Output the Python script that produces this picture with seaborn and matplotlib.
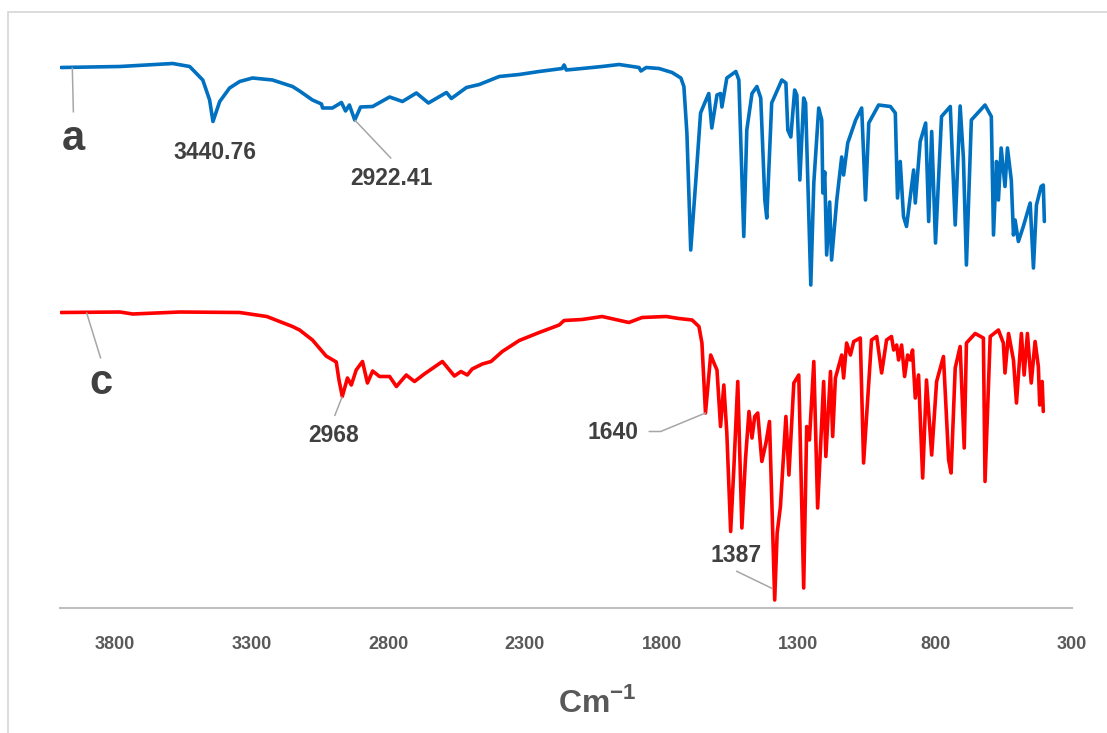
import matplotlib
matplotlib.use("Agg")
import matplotlib.pyplot as plt
import seaborn as sns
import pandas as pd
from matplotlib.patches import Rectangle

# ---- FTIR spectrum a (wavenumber in cm-1, offset transmittance) ----
wn_a = [3996, 3781, 3588, 3526, 3478, 3453, 3440.76, 3416, 3380, 3343,
        3296, 3223, 3150, 3124, 3077, 3044, 3040, 3004, 2971, 2956,
        2942, 2922.41, 2901, 2857, 2795, 2748, 2697, 2653, 2587, 2569,
        2514, 2467, 2394, 2321, 2248, 2164, 2157, 2149, 2091, 2018,
        1956, 1883, 1876, 1857, 1810, 1762, 1730, 1719, 1708, 1694,
        1676, 1658, 1646, 1628, 1617, 1598, 1585, 1580, 1562, 1529,
        1518, 1500, 1489, 1470, 1452, 1438, 1423, 1416, 1398, 1361,
        1346, 1339, 1328, 1314, 1306, 1295, 1281, 1274, 1255, 1244,
        1226, 1215, 1211, 1204, 1197, 1186, 1179, 1160, 1142, 1135,
        1120, 1091, 1069, 1055, 1043, 1007, 964, 946, 938, 928,
        916, 905, 879, 873, 855, 835, 824, 813, 799, 777,
        745, 727, 709, 697, 686, 668, 618, 595, 587, 576,
        569, 559, 545, 536, 522, 514, 508, 496, 478, 453,
        441, 430, 413, 405, 401]
t_a = [112.5, 112.7, 113.3, 112.7, 110.0, 106.0, 101.7, 105.7, 108.4, 109.7,
       110.4, 110.0, 108.7, 107.8, 106.0, 105.2, 104.4, 104.4, 105.5, 103.8,
       105.0, 102.0, 104.6, 104.7, 106.6, 105.7, 107.4, 105.4, 107.5, 106.3,
       108.5, 109.1, 110.7, 111.1, 111.7, 112.3, 113.0, 112.0, 112.3, 112.7,
       113.1, 112.5, 111.8, 112.5, 112.3, 111.5, 110.4, 108.7, 99.4, 76.0,
       89.4, 103.4, 105.0, 107.3, 100.4, 107.0, 107.3, 104.6, 110.4, 111.7,
       110.0, 78.7, 100.0, 107.3, 108.7, 106.4, 86.0, 82.4, 105.4, 110.0,
       109.4, 100.0, 98.6, 108.0, 107.0, 90.0, 106.4, 105.4, 69.0, 89.4,
       104.4, 102.0, 87.4, 91.6, 75.0, 85.6, 74.0, 86.0, 94.6, 91.0,
       97.4, 102.0, 104.4, 86.0, 101.4, 105.0, 104.7, 103.4, 86.4, 93.7,
       82.7, 80.7, 92.0, 85.4, 97.7, 101.4, 81.7, 99.7, 77.4, 102.7,
       104.7, 81.0, 104.8, 94.4, 73.0, 102.0, 105.0, 102.7, 79.0, 93.7,
       86.0, 96.4, 88.7, 96.4, 90.0, 79.0, 82.0, 77.7, 80.7, 85.4,
       72.4, 85.0, 88.7, 89.0, 81.7]

# ---- FTIR spectrum c ----
wn_c = [3996, 3781, 3734, 3562, 3343, 3244, 3150, 3124, 3077, 3027,
        2990, 2980, 2968, 2949, 2935, 2917, 2894, 2876, 2857, 2832,
        2795, 2770, 2734, 2704, 2668, 2602, 2558, 2534, 2511, 2493,
        2456, 2424, 2383, 2321, 2248, 2175, 2157, 2091, 2018, 1920,
        1872, 1784, 1737, 1689, 1664, 1653, 1640, 1621, 1609, 1598,
        1585, 1573, 1562, 1548, 1536, 1522, 1507, 1494, 1481, 1470,
        1460, 1449, 1434, 1419, 1406, 1398, 1387, 1378, 1366, 1346,
        1335, 1317, 1299, 1281, 1270, 1260, 1244, 1230, 1208, 1200,
        1183, 1175, 1165, 1142, 1135, 1124, 1110, 1098, 1074, 1062,
        1033, 1014, 996, 978, 960, 952, 941, 934, 923, 912,
        901, 891, 883, 873, 861, 846, 832, 813, 795, 770,
        751, 742, 727, 709, 694, 686, 654, 624, 618, 599,
        569, 551, 545, 532, 514, 503, 485, 475, 463, 449,
        435, 423, 418, 409, 405]
t_c = [63.5, 63.6, 63.2, 63.6, 63.5, 62.7, 60.7, 60.0, 58.0, 54.8,
       53.6, 50.0, 46.7, 50.4, 49.0, 52.0, 53.7, 49.4, 51.8, 50.7,
       50.7, 48.7, 51.0, 49.7, 51.2, 53.7, 50.8, 51.7, 51.0, 52.2,
       53.2, 53.7, 55.7, 57.9, 59.5, 61.0, 61.9, 62.1, 62.7, 61.5,
       62.5, 62.7, 62.3, 62.0, 60.7, 57.4, 43.4, 55.0, 53.4, 52.0,
       40.7, 49.0, 39.4, 19.7, 32.7, 49.7, 20.4, 34.0, 43.7, 38.4,
       42.7, 43.4, 33.7, 37.4, 41.7, 26.7, 6.0, 19.4, 24.7, 42.7,
       31.0, 49.4, 51.0, 8.4, 40.7, 38.0, 53.7, 24.4, 49.7, 34.7,
       51.7, 38.7, 50.4, 55.0, 50.4, 57.4, 55.0, 57.7, 58.4, 33.4,
       58.0, 58.7, 51.4, 58.0, 58.7, 56.0, 57.0, 54.0, 57.0, 50.7,
       55.0, 54.0, 56.0, 46.4, 51.0, 30.4, 50.0, 35.0, 49.7, 54.7,
       34.0, 31.4, 52.4, 56.7, 36.4, 57.4, 59.3, 58.4, 29.7, 58.7,
       60.0, 57.4, 51.4, 59.3, 54.0, 45.4, 59.3, 51.0, 59.3, 49.4,
       57.7, 52.7, 45.0, 49.7, 43.7]

x_ticks = [3800, 3300, 2800, 2300, 1800, 1300, 800, 300]
x_label = "Cm$^{-1}$"

BLUE = "#0070c0"
RED = "#ff0000"
TEXT = "#404040"
AXIS_TEXT = "#595959"
LEADER = "#a6a6a6"

sns.set_theme(style="white")
plt.rcParams["font.family"] = ["Liberation Sans", "DejaVu Sans"]
plt.rcParams["mathtext.fontset"] = "custom"
plt.rcParams["mathtext.rm"] = "Liberation Sans:bold"
plt.rcParams["mathtext.bf"] = "Liberation Sans:bold"

W, H = 1107, 733
fig = plt.figure(figsize=(W / 100, H / 100), dpi=100)
# plot area: x from 60 px to 1072 px, baseline at 608 px, top at 30 px
ax = fig.add_axes([60 / W, 125 / H, 1012 / W, 578 / H])

df_a = pd.DataFrame({"wavenumber": wn_a, "T": t_a})
df_c = pd.DataFrame({"wavenumber": wn_c, "T": t_c})
line_kw = dict(lw=2.6, estimator=None, sort=False, ax=ax,
               solid_joinstyle="round", solid_capstyle="round")
sns.lineplot(data=df_a, x="wavenumber", y="T", color=BLUE, **line_kw)
sns.lineplot(data=df_c, x="wavenumber", y="T", color=RED, **line_kw)

ax.set_xlim(4000, 300)
ax.set_ylim(4.4, 120)
ax.set_xticks(x_ticks)
ax.set_xticklabels([str(v) for v in x_ticks], fontsize=13,
                   fontweight="bold", color=AXIS_TEXT)
ax.set_yticks([])
ax.set_ylabel("")
ax.set_xlabel("")
ax.tick_params(axis="x", length=0, pad=20)
for side in ("top", "right", "left"):
    ax.spines[side].set_visible(False)
ax.spines["bottom"].set_color("#bfbfbf")
ax.spines["bottom"].set_linewidth(1.5)
fig.text(597 / W, 1 - 703 / H, x_label, fontsize=23, fontweight="bold",
         color=AXIS_TEXT, ha="center", va="center")


def value_at(wn, ts, w):
    return ts[wn.index(w)]


def leader(x0, y0, x1, y1):
    ax.plot([x0, x1], [y0, y1], color=LEADER, lw=1.1, solid_capstyle="butt")


lbl = dict(color=TEXT, fontweight="bold", ha="center", va="center")

# Series names
leader(wn_a[0] - 41, value_at(wn_a, t_a, wn_a[0]), 3951, 103.5)
ax.text(3951, 98.2, "a", fontsize=30, **lbl)
leader(3903, value_at(wn_c, t_c, wn_c[0]), 3851, 54.3)
ax.text(3851, 49.5, "c", fontsize=30, **lbl)

# Peak labels for spectrum a
ax.text(3433, 95.5, f"{wn_a[6]:.2f}", fontsize=16.5, **lbl)
leader(wn_a[21], value_at(wn_a, t_a, 2922.41), 2789, 94.3)
ax.text(2789, 90.3, f"{wn_a[21]:.2f}", fontsize=16.5, **lbl)

# Peak labels for spectrum c
leader(2968, value_at(wn_c, t_c, 2968), 2996, 42.8)
ax.text(3000, 38.9, "2968", fontsize=16.5, **lbl)
y1640 = value_at(wn_c, t_c, 1640)
ax.plot([1640, 1804, 1846], [y1640, 39.7, 39.7], color=LEADER, lw=1.1)
ax.text(1978, 39.5, "1640", fontsize=16.5, **lbl)
leader(1396, 8.3, 1528, 11.8)
ax.text(1530, 14.8, "1387", fontsize=16.5, **lbl)

# Light chart-area border
fig.add_artist(Rectangle((8 / W, -0.1), 1.2, 1.1 - 12 / H,
                         transform=fig.transFigure, fill=False,
                         ec="#d9d9d9", lw=1.3))

fig.savefig("out.png", dpi=100)
